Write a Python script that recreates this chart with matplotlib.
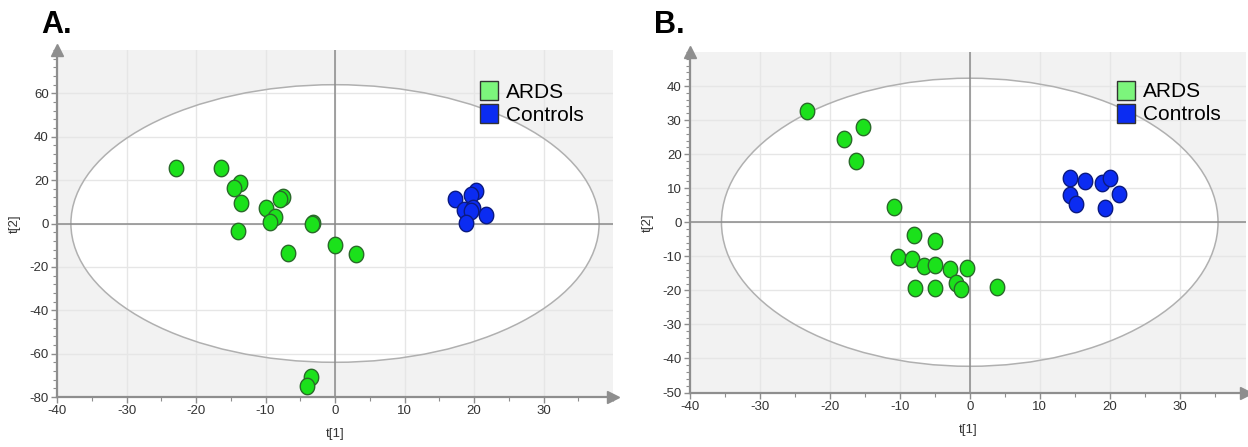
import numpy as np
import matplotlib
matplotlib.use("Agg")
import matplotlib.pyplot as plt
from matplotlib.patches import Ellipse, Patch
from matplotlib.path import Path
from matplotlib.ticker import MultipleLocator

plt.rcParams['font.family'] = ['Liberation Sans', 'DejaVu Sans']
plt.rcParams['axes.unicode_minus'] = False

# ---------------- data ----------------
# Panel A
a_ards_x = [-22.9, -16.4, -13.6, -14.5, -13.5, -13.9, -10.0, -7.5, -7.9, -8.6, -9.4, -3.2, -3.3, -6.7, 0.0, 3.0, -3.4, -4.1]
a_ards_y = [25.8, 25.8, 18.8, 16.4, 9.3, -3.4, 7.0, 12.0, 11.2, 2.8, 0.5, 0.4, -0.2, -13.6, -10.1, -14.0, -71.0, -75.0]
a_ctrl_x = [17.3, 20.3, 19.5, 18.6, 19.8, 19.6, 18.8, 21.7]
a_ctrl_y = [11.5, 15.0, 13.0, 6.3, 7.2, 5.6, 0.3, 3.9]
# Panel B
b_ards_x = [-23.3, -18.0, -15.3, -16.3, -10.9, -7.9, -4.9, -10.2, -8.2, -6.6, -5.0, -2.8, -0.4, -1.9, -1.2, -7.8, -4.9, 3.9]
b_ards_y = [32.6, 24.4, 28.0, 18.0, 4.4, -3.7, -5.6, -10.3, -10.8, -12.8, -12.6, -13.8, -13.4, -17.8, -19.6, -19.3, -19.3, -19.0]
b_ctrl_x = [14.3, 16.5, 18.9, 20.0, 14.3, 15.2, 21.4, 19.3]
b_ctrl_y = [13.0, 12.2, 11.6, 13.0, 8.0, 5.4, 8.2, 4.1]

# Hotelling ellipse half-axes
a_ellipse = (38.0, 64.0)
b_ellipse = (35.5, 42.3)

x_ticks = [-40, -30, -20, -10, 0, 10, 20, 30]
a_y_ticks = [-80, -60, -40, -20, 0, 20, 40, 60]
b_y_ticks = [-50, -40, -30, -20, -10, 0, 10, 20, 30, 40]

groups = ["ARDS", "Controls"]
panel_labels = ["A.", "B."]

# ---------------- style ----------------
green_fill, green_edge = "#1be11b", "#2a6a2a"
blue_fill, blue_edge = "#0b2cf2", "#0b1a80"
legend_green = "#7cf57c"
axis_gray = "#8e8e8e"

theta = np.linspace(0, 2 * np.pi, 60)
oval = Path(np.column_stack([0.88 * np.cos(theta), np.sin(theta)]), closed=True)

fig = plt.figure(figsize=(12.48, 4.47), dpi=100)
W, H = 1248, 447

def make_axes(l, r, t, b):
    return fig.add_axes([l / W, (H - b) / H, (r - l) / W, (b - t) / H])

axA = make_axes(57, 613, 50, 397)
axB = make_axes(690, 1246, 52, 392.5)

def style(ax, xlim, ylim, yticks, yminor, ell, ards_x, ards_y, ctrl_x, ctrl_y, leg_xy):
    ax.set_xlim(*xlim)
    ax.set_ylim(*ylim)
    ax.set_facecolor("#f2f2f2")
    ax.add_patch(Ellipse((0, 0), 2 * ell[0], 2 * ell[1], facecolor="white",
                         edgecolor="none", zorder=0))
    ax.add_patch(Ellipse((0, 0), 2 * ell[0], 2 * ell[1], facecolor="none",
                         edgecolor="#b0b0b0", lw=1.1, zorder=1.2))
    ax.set_axisbelow(True)
    ax.grid(True, color="#e6e6e6", lw=1.0)
    ax.axhline(0, color="#8a8a8a", lw=1.1, zorder=1.5)
    ax.axvline(0, color="#8a8a8a", lw=1.1, zorder=1.5)
    ax.scatter(ards_x, ards_y, s=140, marker=oval, facecolor=green_fill,
               edgecolor=green_edge, lw=1.0, zorder=3)
    ax.scatter(ctrl_x, ctrl_y, s=140, marker=oval, facecolor=blue_fill,
               edgecolor=blue_edge, lw=1.0, zorder=3)
    for s in ["top", "right"]:
        ax.spines[s].set_visible(False)
    for s in ["left", "bottom"]:
        ax.spines[s].set_color(axis_gray)
        ax.spines[s].set_linewidth(1.6)
    ax.plot(1, 0, ">", color=axis_gray, ms=8, transform=ax.transAxes, clip_on=False, zorder=5)
    ax.plot(0, 1, "^", color=axis_gray, ms=8, transform=ax.transAxes, clip_on=False, zorder=5)
    ax.set_xticks(x_ticks)
    ax.set_yticks(yticks)
    ax.xaxis.set_minor_locator(MultipleLocator(5))
    ax.yaxis.set_minor_locator(MultipleLocator(yminor))
    ax.tick_params(axis="both", which="major", labelsize=9.5, colors=axis_gray,
                   labelcolor="#333333", length=4, width=1, pad=2)
    ax.tick_params(axis="both", which="minor", colors=axis_gray, length=3, width=0.8)
    ax.set_xlabel("t[1]", fontsize=9.5, color="#333333", labelpad=8)
    ax.set_ylabel("t[2]", fontsize=9.5, color="#333333", labelpad=6)
    handles = [Patch(facecolor=legend_green, edgecolor="#333333", lw=1, label=groups[0]),
               Patch(facecolor=blue_fill, edgecolor="#333333", lw=1, label=groups[1])]
    ax.legend(handles=handles, loc="upper left", bbox_to_anchor=leg_xy, frameon=False,
              fontsize=15, handlelength=0.85, handleheight=1.0, handletextpad=0.4,
              labelspacing=0.12, borderpad=0, borderaxespad=0)

style(axA, (-40, 40), (-80, 80), a_y_ticks, 4, a_ellipse,
      a_ards_x, a_ards_y, a_ctrl_x, a_ctrl_y, (0.761, 0.91))
style(axB, (-40, 39.5), (-50, 50), b_y_ticks, 2, b_ellipse,
      b_ards_x, b_ards_y, b_ctrl_x, b_ctrl_y, (0.768, 0.915))

fig.text(41 / W, 1 - 33 / H, panel_labels[0], fontsize=22, fontweight="bold", ha="left", va="baseline")
fig.text(654 / W, 1 - 33 / H, panel_labels[1], fontsize=22, fontweight="bold", ha="left", va="baseline")

fig.savefig("out.png", dpi=100, facecolor="white")
